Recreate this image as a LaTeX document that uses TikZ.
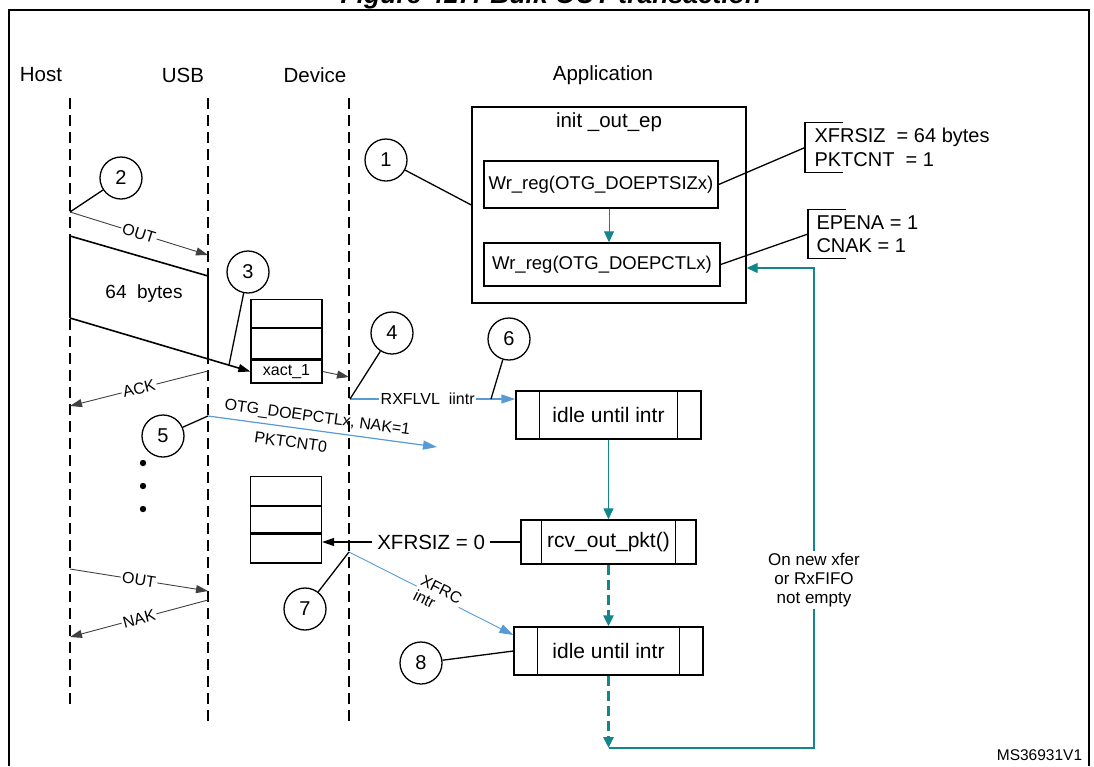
\documentclass[tikz,border=0pt]{standalone}
\usepackage{fontspec}
\setmainfont{Liberation Sans}
\usetikzlibrary{arrows.meta,positioning}
\definecolor{flowteal}{RGB}{18,134,138}
\definecolor{intrblue}{RGB}{88,154,214}

\begin{document}
\begin{tikzpicture}[x=1pt,y=-1pt,line width=1pt,
        head node/.style={font=\fontsize{20.5}{23}\selectfont},
        num node/.style={draw,circle,line width=1.3pt,minimum size=42pt,inner sep=0pt,font=\fontsize{20}{23}\selectfont},
        reg node/.style={draw,line width=1.4pt,inner sep=0pt,font=\fontsize{18.5}{22}\selectfont},
        proc node/.style={draw,line width=1.4pt,inner sep=0pt,font=\fontsize{21}{24}\selectfont},
        cell node/.style={draw,line width=1.3pt,minimum width=71pt,inner sep=0pt,font=\fontsize{16}{18}\selectfont},
        note node/.style={align=left,anchor=west,inner ysep=0pt,font=\fontsize{20}{23.5}\selectfont},
        msg label/.style={font=\fontsize{16}{18}\selectfont,inner sep=1.5pt,sloped},
        life line/.style={line width=2.5pt,dash pattern=on 11pt off 6pt},
        msg/.style={draw=black!75,line width=0.9pt,-{Triangle[length=12pt,width=8pt]}},
        data/.style={line width=1.6pt},
        intr/.style={draw=intrblue,line width=1.2pt,-{Triangle[length=14pt,width=9pt]}},
        flow/.style={draw=flowteal,line width=1.3pt,-{Triangle[length=11pt,width=10pt]}}]

    \useasboundingbox (0,0) rectangle (1094,766);
    \draw[line width=2pt] (9,766) -- (9,10) -- (1089,10) -- (1089,766);
    \node[anchor=base,font=\fontsize{26.5}{30}\selectfont\bfseries\itshape] (title) at (551,3.5) {Figure 417. Bulk OUT transaction};

    \node[head node] (host) at (41,75) {Host};
    \node[head node] (usb) at (183,75) {USB};
    \node[head node] (dev) at (315,75) {Device};
    \node[head node] (app) at (603,75) {Application};

    \coordinate (hostT) at (70,98);   \coordinate (hostB) at (70,708);
    \coordinate (usbT) at (208,98);   \coordinate (usbB) at (208,723);
    \coordinate (devT) at (349,98);   \coordinate (devB) at (349,723);
    \draw[life line] (hostT) -- (hostB);
    \draw[life line] (usbT) -- (usbB);
    \draw[life line] (devT) -- (devB);

    % application side
    \node[draw,line width=1.4pt,minimum width=274pt,minimum height=196pt] (init) at (609,205) {};
    \node[head node] (initlbl) at ([yshift=-16pt]init.north) {init \_out\_ep};
    \node[reg node,minimum width=234pt,minimum height=47pt] (wrsiz) at (601,184.5) {Wr\_reg(OTG\_DOEPTSIZx)};
    \node[reg node,minimum width=236pt,minimum height=43pt] (wrctl) at (602,264.5) {Wr\_reg(OTG\_DOEPCTLx)};

    \node[note node,inner xsep=9pt,minimum height=49pt] (sizreg) at (805,147.5) {XFRSIZ\ \ = 64 bytes\\PKTCNT\ \ = 1};
    \node[note node,inner xsep=8pt,minimum height=48pt] (ctlreg) at (808,234) {EPENA = 1\\CNAK = 1};
    \foreach \r in {sizreg,ctlreg}
        \draw[line width=1.3pt] ([xshift=38pt]\r.north west) -- (\r.north west)
            -- (\r.south west) -- ([xshift=38pt]\r.south west);

    \node[proc node,minimum width=185pt,minimum height=48pt] (idle1) at (608.5,415) {idle until intr};
    \node[proc node,minimum width=175pt,minimum height=44pt] (rcv) at (608.5,542) {rcv\_out\_pkt()};
    \node[proc node,minimum width=189pt,minimum height=48pt] (idle2) at (608.5,651) {idle until intr};
    \foreach \p/\w in {idle1/24pt,rcv/21pt,idle2/24pt}
        \draw[line width=1.4pt] ([xshift=\w]\p.north west) -- ([xshift=\w]\p.south west)
            ([xshift=-\w]\p.north east) -- ([xshift=-\w]\p.south east);

    % device buffers
    \node[cell node,minimum height=23pt] (xact) at (286.5,371.5) {xact\_1};
    \node[cell node,minimum height=30pt,above=0pt of xact] (fifo1b) {};
    \node[cell node,minimum height=28pt,above=0pt of fifo1b] (fifo1a) {};
    \node[cell node,minimum height=29pt] (fifo2c) at (286,548.5) {};
    \node[cell node,minimum height=26pt,above=0pt of fifo2c] (fifo2b) {};
    \node[cell node,minimum height=29pt,above=0pt of fifo2b] (fifo2a) {};

    \node[num node] (n1) at (386,160) {1};
    \node[num node] (n2) at (121,178) {2};
    \node[num node] (n3) at (248,272) {3};
    \node[num node] (n4) at (392,333) {4};
    \node[num node] (n5) at (163,436) {5};
    \node[num node] (n6) at (509,339) {6};
    \node[num node] (n7) at (305,609) {7};
    \node[num node] (n8) at (421,663) {8};

    \coordinate (out1s) at (70,212);  \coordinate (out1e) at (208,255);
    \coordinate (pkt1) at (70,236);   \coordinate (pkt2) at (208,276);
    \coordinate (pkt3) at (208,359);  \coordinate (pkt4) at (70,318);
    \coordinate (pkt3d) at (229,365);
    \coordinate (ack1s) at (208,371); \coordinate (ack1e) at (70,406);
    \coordinate (xactd) at (349,377);
    \coordinate (nak1s) at (208,416); \coordinate (nak1e) at (437,447);
    \coordinate (rxs) at (350,399);   \coordinate (rxn6) at (491,399);
    \coordinate (xfrcs) at (349,552);
    \coordinate (out2s) at (70,569);  \coordinate (out2e) at (208,591);
    \coordinate (nak2s) at (208,600); \coordinate (nak2e) at (70,637);
    \coordinate (loopb) at (608.5,748); \coordinate (loopr) at (814,268);

    % host / usb traffic
    \draw[msg] (out1s) -- node[msg label,fill=white] {OUT} (out1e);
    \draw[data] (pkt4) -- (pkt1) -- (pkt2) -- (pkt3);
    \draw[data,-{Triangle[length=12pt,width=8pt]}] (pkt4) -- (xact.west);
    \node[font=\fontsize{19}{22}\selectfont] (bytes) at (144,294) {64\ \ bytes};
    \draw[msg] (ack1s) -- node[msg label,fill=white] {ACK} (ack1e);
    \draw[msg] (xact.east) -- (xactd);
    \draw[msg] (out2s) -- node[msg label,fill=white] {OUT} (out2e);
    \draw[msg] (nak2s) -- node[msg label,fill=white] {NAK} (nak2e);
    \foreach \y in {463,486,509}
        \fill (143,\y) circle (3.2pt);

    % interrupts
    \draw[intr] (nak1s) -- node[msg label,above=3pt,pos=0.47] {OTG\_DOEPCTLx, NAK=1}
        node[msg label,below=7pt,pos=0.37] {PKTCNT0} (nak1e);
    \draw[intr,line width=1.4pt] (rxs) -- node[msg label,fill=white,pos=0.47] {RXFLVL\ \ iintr} ([yshift=16pt]idle1.west);
    \draw[intr,line width=0.9pt] (xfrcs) -- node[msg label,fill=white,align=left,pos=0.54,font=\fontsize{16}{16.5}\selectfont] {XFRC\\intr} ([yshift=16pt]idle2.west);
    \draw[msg,draw=black,line width=1.2pt] (rcv.west) -- node[head node,fill=white,inner xsep=5pt,inner ysep=1pt,pos=0.45] {XFRSIZ = 0} (rcv.west -| fifo2c.east);

    \path[line width=1.3pt]
        (n1) edge (init.west)
        (n2) edge (out1s)
        (n3) edge (pkt3d)
        (n4) edge (rxs)
        (n5) edge (nak1s)
        (n6) edge (rxn6)
        (n7) edge (xfrcs)
        (n8) edge (idle2.west)
        (wrsiz.east) edge (sizreg.west)
        (wrctl.east) edge (ctlreg.west);

    % application flow
    \draw[flow,line width=1pt] (init.center |- wrsiz.south) -- (init.center |- wrctl.north);
    \draw[flow] (idle1.south) -- (rcv.north);
    \draw[flow,line width=3pt,dash pattern=on 10pt off 5pt] (rcv.south) -- (idle2.north);
    \draw[flow,line width=3pt,dash pattern=on 10pt off 5pt] (idle2.south) -- (loopb);
    \draw[flow] (loopb) -| node[pos=0.675,fill=white,align=center,inner sep=2pt,font=\fontsize{17}{19}\selectfont] {On new xfer\\or RxFIFO\\not empty} (loopr) -- (loopr -| init.east);

    \node[font=\fontsize{15.5}{18}\selectfont,anchor=east] (msid) at (1086,755) {MS36931V1};

\end{tikzpicture}
\end{document}
